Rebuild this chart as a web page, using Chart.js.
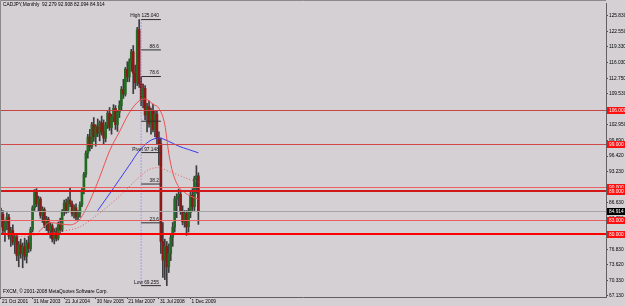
<!DOCTYPE html>
<html>
<head>
<meta charset="utf-8">
<script src="https://cdn.jsdelivr.net/npm/chart.js@4.4.1/dist/chart.umd.min.js"></script>
<style>
  html, body { margin: 0; padding: 0; background: #d4d0d4; }
  #wrap { width: 625px; height: 306px; }
</style>
</head>
<body>
<div id="wrap"><canvas id="chart" width="625" height="306"></canvas></div>
<script>
// CADJPY monthly bars
const opens = [83.5, 84.2, 80.8, 82.4, 83.6, 79.6, 80.8, 78.4, 79.5, 75.6,
  77.8, 76.0, 77.4, 75.4, 78.2, 77.0, 81.0, 85.6, 88.8, 86.4,
  87.4, 84.0, 85.2, 82.0, 83.2, 80.8, 81.8, 79.0, 80.6, 79.2,
  82.0, 81.0, 84.8, 86.6, 85.0, 87.2, 86.4, 84.4, 85.6, 83.6,
  84.4, 86.2, 89.0, 92.6, 97.0, 100.4, 98.4, 103.0, 100.5, 102.6,
  101.2, 103.4, 101.6, 100.2, 103.0, 105.4, 102.4, 104.6, 106.4, 103.0,
  105.6, 107.0, 110.4, 109.4, 114.6, 113.0, 116.2, 118.3, 113.8, 111.8,
  122.9, 111.6, 108.2, 110.6, 105.0, 106.8, 103.2, 105.9, 102.0, 105.2,
  100.2, 99.0, 78.5, 74.6, 77.5, 73.2, 76.0, 79.4, 81.5, 87.4,
  87.8, 88.4, 84.8, 82.6, 84.4, 81.6, 84.6, 88.2, 85.8, 91.8,
  92.279];
const highs = [85.5, 85.0, 83.0, 84.5, 84.2, 81.5, 82.0, 80.2, 80.0, 78.5,
  79.0, 78.2, 79.2, 78.8, 79.6, 81.5, 86.0, 89.4, 89.6, 88.0,
  87.8, 85.8, 85.6, 83.8, 83.6, 82.4, 82.2, 81.2, 81.4, 82.6,
  83.4, 85.2, 87.2, 87.4, 87.8, 89.8, 87.0, 86.2, 86.4, 85.0,
  86.8, 89.6, 93.0, 97.5, 101.0, 102.0, 103.5, 104.5, 103.0, 104.2,
  103.8, 104.8, 104.0, 103.5, 106.0, 106.6, 105.2, 107.2, 107.0, 106.0,
  108.0, 111.0, 112.5, 115.0, 116.2, 116.8, 118.8, 119.6, 115.5, 123.4,
  125.04, 113.0, 111.5, 111.2, 107.5, 108.0, 106.5, 107.3, 105.8, 106.0,
  101.5, 100.2, 82.5, 79.0, 78.5, 78.0, 80.0, 82.5, 88.0, 88.5,
  89.5, 89.2, 86.0, 85.0, 85.0, 85.5, 88.8, 89.6, 92.2, 94.4,
  92.908];
const lows = [81.5, 80.0, 78.5, 81.0, 79.0, 77.5, 77.8, 76.0, 74.5, 73.2,
  75.0, 73.0, 74.6, 74.0, 76.2, 76.5, 80.5, 85.0, 85.8, 84.8,
  83.4, 82.5, 81.4, 80.8, 80.2, 79.2, 78.4, 78.0, 78.6, 78.8,
  80.4, 80.6, 84.0, 84.4, 84.6, 85.8, 83.8, 83.4, 83.0, 82.8,
  83.6, 85.8, 88.5, 92.0, 96.0, 97.5, 98.0, 99.5, 98.5, 100.5,
  99.6, 100.8, 99.0, 99.4, 102.2, 101.8, 101.0, 103.6, 102.0, 101.6,
  104.5, 106.0, 108.5, 109.0, 112.0, 112.0, 114.2, 109.5, 110.5, 111.2,
  110.8, 107.0, 106.5, 104.0, 101.5, 102.5, 101.0, 101.5, 100.5, 99.0,
  94.5, 76.0, 71.0, 70.5, 69.255, 72.0, 74.5, 77.5, 80.5, 83.5,
  86.0, 84.2, 82.0, 81.5, 79.8, 80.5, 83.5, 85.0, 85.0, 88.6,
  82.094];
const closes = [84.2, 80.8, 82.4, 83.6, 79.6, 80.8, 78.4, 79.5, 75.6, 77.8,
  76.0, 77.4, 75.4, 78.2, 77.0, 81.0, 85.6, 88.8, 86.4, 87.4,
  84.0, 85.2, 82.0, 83.2, 80.8, 81.8, 79.0, 80.6, 79.2, 82.0,
  81.0, 84.8, 86.6, 85.0, 87.2, 86.4, 84.4, 85.6, 83.6, 84.4,
  86.2, 89.0, 92.6, 97.0, 100.4, 98.4, 103.0, 100.5, 102.6, 101.2,
  103.4, 101.6, 100.2, 103.0, 105.4, 102.4, 104.6, 106.4, 103.0, 105.6,
  107.0, 110.4, 109.4, 114.6, 113.0, 116.2, 118.3, 113.8, 111.8, 122.9,
  111.6, 108.2, 110.6, 105.0, 106.8, 103.2, 105.9, 102.0, 105.2, 100.2,
  99.0, 78.5, 74.6, 77.5, 73.2, 76.0, 79.4, 81.5, 87.4, 87.8,
  88.4, 84.8, 82.6, 84.4, 81.6, 84.6, 88.2, 85.8, 91.8, 92.279,
  84.914];

// moving averages
const maRedIdx = [19, 25, 30, 35, 40, 45, 50, 55, 60, 65, 70, 73, 77, 80, 83, 85, 87, 90, 93, 96, 100];
const maRedVal = [80.5, 82.5, 82.2, 82.0, 83.2, 87.0, 92.0, 97.5, 101.5, 105.5, 108.0, 108.4, 107.3, 106.4, 103.0, 97.0, 93.0, 90.0, 88.8, 88.0, 87.4];
const maBlueIdx = [49, 55, 60, 65, 70, 75, 80, 85, 90, 95, 100];
const maBlueVal = [85.0, 88.5, 91.5, 94.5, 97.5, 99.5, 100.2, 99.5, 98.5, 97.8, 97.1];
const maDotIdx = [0, 10, 20, 30, 40, 50, 60, 70, 75, 80, 85, 90, 95, 100];
const maDotVal = [80.5, 79.6, 80.0, 80.6, 81.6, 84.5, 88.0, 92.0, 93.6, 94.0, 93.2, 92.4, 91.6, 91.0];

// fibonacci from the high to the low
const fibPrices = [125.04, 118.68, 113.10, 103.73, 97.15, 90.56, 82.42, 69.255];
const fibText = ['High 125.040', '88.6', '78.6', '', 'Pivot 97.148', '38.2', '23.6', 'Low 69.255'];
const fibFrom = 71;
const fibTo = 81;

// horizontal levels
const levelVals = [106, 99, 90, 89, 83, 80];
const levelText = ['106.000', '99.000', '90.000', '89.000', '83.000', '80.000'];
const levelWidth = [1, 1, 1, 2, 1, 2];
const levelColor = ['#c84444', '#d04848', '#e86060', '#d01818', '#e86060', '#ff0000'];
const lastPrice = 84.914;

// axes
const yTickVals = [125.83, 122.55, 119.33, 116.03, 112.75, 109.53, 106.25, 102.95, 99.69, 96.42, 93.23, 89.93, 86.63, 83.35, 80.05, 76.83, 73.62, 70.33, 67.13];
const yTickText = ['125.830', '122.550', '119.330', '116.030', '112.750', '109.530', '106.250', '102.950', '99.690', '96.420', '93.230', '89.930', '86.630', '83.350', '80.050', '76.830', '73.620', '70.330', '67.130'];
const xTickIdx = [0, 16, 32, 48, 64, 80, 96];
const xTickText = ['21 Oct 2001', '31 Mar 2003', '21 Jul 2004', '30 Nov 2005', '21 Mar 2007', '31 Jul 2008', '1 Dec 2009'];
const nCats = 307;

const titleText = 'CADJPY,Monthly  92.279 92.908 82.094 84.914';
const copyText = 'FXCM, \u00a9 2001-2008 MetaQuotes Software Corp.';

const bg = '#d4d0d4';
const bull = '#236b23';
const bear = '#8c1818';
const small = '4.8px "Liberation Sans", Arial, sans-serif';

const catLabels = Array.from({ length: nCats }, (_, i) => i);
const pts = (idx, vals) => idx.map((x, k) => ({ x: x, y: vals[k] }));

const fibSets = fibPrices.map(p => ({
    type: 'line',
    data: [{ x: fibFrom, y: p }, { x: fibTo, y: p }],
    borderColor: '#303030',
    borderWidth: 1,
    pointRadius: 0,
    order: 0
}));

const overlay = {
    id: 'overlay',
    beforeDraw(chart) {
        const ctx = chart.ctx;
        ctx.save();
        ctx.fillStyle = bg;
        ctx.fillRect(0, 0, chart.width, chart.height);
        ctx.restore();
    },
    afterDatasetsDraw(chart) {
        const ctx = chart.ctx;
        const area = chart.chartArea;
        const y = chart.scales.y;
        ctx.save();
        // current price line
        let py = Math.round(y.getPixelForValue(lastPrice)) + 0.5;
        ctx.strokeStyle = '#a4a4a4';
        ctx.lineWidth = 1;
        ctx.beginPath();
        ctx.moveTo(area.left, py);
        ctx.lineTo(area.right, py);
        ctx.stroke();
        // support / resistance lines
        levelVals.forEach((v, i) => {
            const w = levelWidth[i];
            const ly = Math.round(y.getPixelForValue(v)) + (w % 2 ? 0.5 : 0);
            ctx.strokeStyle = levelColor[i];
            ctx.lineWidth = w;
            ctx.beginPath();
            ctx.moveTo(area.left, ly);
            ctx.lineTo(area.right, ly);
            ctx.stroke();
        });
        ctx.restore();
    },
    afterDraw(chart) {
        const ctx = chart.ctx;
        const area = chart.chartArea;
        const x = chart.scales.x;
        const y = chart.scales.y;
        ctx.save();
        // frame
        ctx.strokeStyle = '#8a8a8a';
        ctx.lineWidth = 1;
        ctx.beginPath();
        ctx.moveTo(0.5, area.bottom);
        ctx.lineTo(0.5, 0.5);
        ctx.lineTo(area.right, 0.5);
        ctx.stroke();

        ctx.font = small;
        ctx.fillStyle = '#000';
        ctx.textBaseline = 'middle';
        ctx.textAlign = 'left';
        ctx.fillText(titleText, 3, 5);
        ctx.fillText(copyText, 3, area.bottom - 5);

        // fib labels
        ctx.textAlign = 'right';
        ctx.textBaseline = 'bottom';
        ctx.fillStyle = '#101010';
        const fx = x.getPixelForValue(fibTo) - 2;
        fibPrices.forEach((p, i) => {
            if (fibText[i]) ctx.fillText(fibText[i], fx, y.getPixelForValue(p) - 1);
        });

        // price tags on the axis
        ctx.textAlign = 'left';
        ctx.textBaseline = 'middle';
        const tag = (v, txt, fill) => {
            const ty = Math.round(y.getPixelForValue(v));
            ctx.fillStyle = fill;
            ctx.fillRect(area.right + 1, ty - 3, chart.width - area.right - 1, 7);
            ctx.fillStyle = '#fff';
            ctx.fillText(txt, area.right + 3, ty + 0.5);
        };
        levelVals.forEach((v, i) => tag(v, levelText[i], '#ff1010'));
        tag(lastPrice, lastPrice.toFixed(3), '#000');
        ctx.restore();
    }
};

new Chart(document.getElementById('chart'), {
    type: 'bar',
    data: {
        labels: catLabels,
        datasets: [
            {
                label: 'wick',
                data: lows.map((l, i) => [l, highs[i]]),
                backgroundColor: '#3c3c3c',
                barThickness: 1,
                grouped: false,
                order: 3
            },
            {
                label: 'body',
                data: opens.map((o, i) => [o, closes[i]]),
                backgroundColor: opens.map((o, i) => closes[i] >= o ? bull : bear),
                barThickness: 2,
                minBarLength: 1,
                grouped: false,
                order: 2
            },
            {
                type: 'line',
                data: pts(maRedIdx, maRedVal),
                borderColor: '#f05050',
                borderWidth: 1,
                pointRadius: 0,
                cubicInterpolationMode: 'monotone',
                order: 1
            },
            {
                type: 'line',
                data: pts(maDotIdx, maDotVal),
                borderColor: '#e06060',
                borderWidth: 1,
                borderDash: [1, 2],
                pointRadius: 0,
                cubicInterpolationMode: 'monotone',
                order: 1
            },
            {
                type: 'line',
                data: pts(maBlueIdx, maBlueVal),
                borderColor: '#3c3cf0',
                borderWidth: 1,
                pointRadius: 0,
                cubicInterpolationMode: 'monotone',
                order: 1
            },
            {
                type: 'line',
                data: [{ x: fibFrom, y: fibPrices[0] }, { x: fibFrom, y: fibPrices[fibPrices.length - 1] }],
                borderColor: '#7070ff',
                borderWidth: 1,
                borderDash: [1, 2],
                pointRadius: 0,
                order: 0
            },
            ...fibSets
        ]
    },
    options: {
        responsive: false,
        animation: false,
        devicePixelRatio: 1,
        layout: { padding: { top: 2, left: 0, right: 0, bottom: 0 } },
        plugins: {
            legend: { display: false },
            tooltip: { enabled: false }
        },
        scales: {
            x: {
                type: 'category',
                offset: true,
                afterBuildTicks: ax => { ax.ticks = xTickIdx.map(v => ({ value: v })); },
                afterFit: ax => { ax.height = 9; },
                grid: { drawOnChartArea: false, offset: false, tickLength: 2, color: '#505050' },
                border: { display: true, color: '#606060' },
                ticks: {
                    autoSkip: false,
                    maxRotation: 0,
                    align: 'start',
                    labelOffset: 1,
                    padding: 0,
                    color: '#000',
                    font: { size: 4.8, family: '"Liberation Sans", Arial, sans-serif' },
                    callback: (v, i) => xTickText[i]
                }
            },
            y: {
                position: 'right',
                min: 66.87,
                max: 128.33,
                afterBuildTicks: ax => { ax.ticks = yTickVals.map(v => ({ value: v })); },
                afterFit: ax => { ax.width = 19; },
                grid: { drawOnChartArea: false, tickLength: 2, color: '#505050' },
                border: { display: true, color: '#606060' },
                ticks: {
                    padding: 1,
                    color: '#000',
                    font: { size: 4.8, family: '"Liberation Sans", Arial, sans-serif' },
                    callback: (v, i) => yTickText[i]
                }
            }
        }
    },
    plugins: [overlay]
});
</script>
</body>
</html>
